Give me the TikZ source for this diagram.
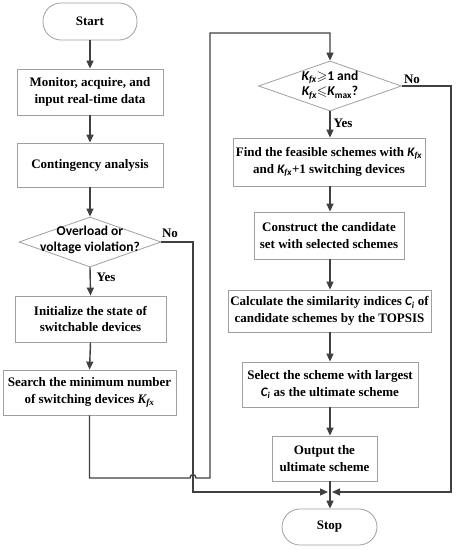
\documentclass[tikz,border=0pt]{standalone}
\usepackage{fontspec}
\usepackage{amssymb}
\setmainfont{Liberation Serif}
\newfontfamily\sanscal{Carlito}
\usetikzlibrary{shapes.geometric,arrows.meta}
\definecolor{linegray}{HTML}{404040}
\definecolor{boxgray}{HTML}{A0A0A0}
\newcommand\Kfx{{\sanscal\bfseries\itshape K\textsubscript{fx}}}
\newcommand\Kfxs{{\bfseries\itshape K\textsubscript{fx}}}
\newcommand\Ci{{\sanscal\bfseries\itshape C\textsubscript{i}}}
\begin{document}
\begin{tikzpicture}[x=1pt,y=-1pt,
  box/.style={draw=boxgray, fill=white, line width=0.8pt, align=center, inner sep=0pt,
    font=\bfseries\fontsize{13}{16.5}\selectfont},
  term/.style={box, rounded corners=18pt},
  dia/.style={diamond, draw=boxgray, line width=0.8pt, inner sep=0pt},
  dtext/.style={align=center, inner sep=0pt, font=\sanscal\bfseries\fontsize{13.5}{15.5}\selectfont},
  lab/.style={inner sep=0pt, font=\bfseries\fontsize{13}{15}\selectfont},
  conn/.style={draw=linegray, line width=1.4pt},
  arr/.style={conn, -{Triangle[length=8pt,width=7pt]}}]
\useasboundingbox (0,0) rectangle (456,550);
% left column
\node[term, minimum width=94, minimum height=37] (start) at (90,21.5) {Start};
\node[box, minimum width=146, minimum height=46] (mon) at (90,92) {Monitor, acquire, and\\input real-time data};
\node[box, minimum width=146, minimum height=44] (cont) at (90,165) {Contingency analysis};
\node[dia, minimum width=142, minimum height=50] (d1) at (90,242) {};
\node[dtext] (d1t) at (90,240) {Overload or\\voltage violation?};
\node[box, minimum width=151, minimum height=46] (init) at (90.5,319) {Initialize the state of\\switchable devices};
\node[box, minimum width=173, minimum height=45] (search) at (89.5,392.5) {Search the minimum number\\of switching devices \Kfxs};
% right column
\node[dia, minimum width=143, minimum height=50] (d2) at (330,86) {};
\node[dtext] (d2t) at (330,85) {\Kfx$\geqslant$1 and\\\Kfx$\leqslant${\itshape K}\textsubscript{max}?};
\node[box, minimum width=192, minimum height=48] (find) at (329,162) {Find the feasible schemes with \Kfx\\and \Kfx+1 switching devices};
\node[box, minimum width=150, minimum height=47] (cons) at (329,235.5) {Construct the candidate\\set with selected schemes};
\node[box, minimum width=203, minimum height=42] (calc) at (329.5,311) {Calculate the similarity indices \Ci{} of\\candidate schemes by the TOPSIS};
\node[box, minimum width=176, minimum height=45] (sel) at (330,384.5) {Select the scheme with largest\\\Ci{} as the ultimate scheme};
\node[box, minimum width=105, minimum height=45] (out) at (324.5,458.5) {Output the\\ultimate scheme};
\node[term, minimum width=95, minimum height=36] (stop) at (329.5,527) {Stop};
% labels
\node[lab] (no1) at (170,233) {No};
\node[lab] (yes1) at (106,277) {Yes};
\node[lab] (no2) at (412,79) {No};
\node[lab] (yes2) at (343,123) {Yes};
% helper coordinates
\coordinate (merge) at (330,492);
\coordinate (top) at (330,33);
% connectors
\draw[arr] (start.south) -- (mon.north);
\draw[arr] (mon.south) -- (cont.north);
\draw[arr] (cont.south) -- (d1.north);
\draw[arr] (d1.south) -- (init.north);
\draw[arr] (init.south) -- (search.north);
\draw[conn, -{Triangle[length=8pt,width=7pt]}] (search.south) -- (89.5,478) -- (190,478)
   .. controls (190,473.5) and (196,473.5) .. (196,478) -- (210,478) -- (210,33) -- (top) -- (d2.north);
\draw[arr] (d1.east) -- (193,242) -- (193,492) -- ([xshift=-2pt]merge);
\draw[arr] (d2.east) -- (451,86) -- (451,492) -- ([xshift=2pt]merge);
\draw[arr] (d2.south) -- (find.north -| d2.south);
\draw[arr] (find.south -| d2.south) -- (cons.north -| d2.south);
\draw[arr] (cons.south -| d2.south) -- (calc.north -| d2.south);
\draw[arr] (calc.south -| d2.south) -- (sel.north -| d2.south);
\draw[arr] (sel.south -| d2.south) -- (out.north -| d2.south);
\draw[arr] (out.south -| d2.south) -- (stop.north -| d2.south);
\end{tikzpicture}
\end{document}
